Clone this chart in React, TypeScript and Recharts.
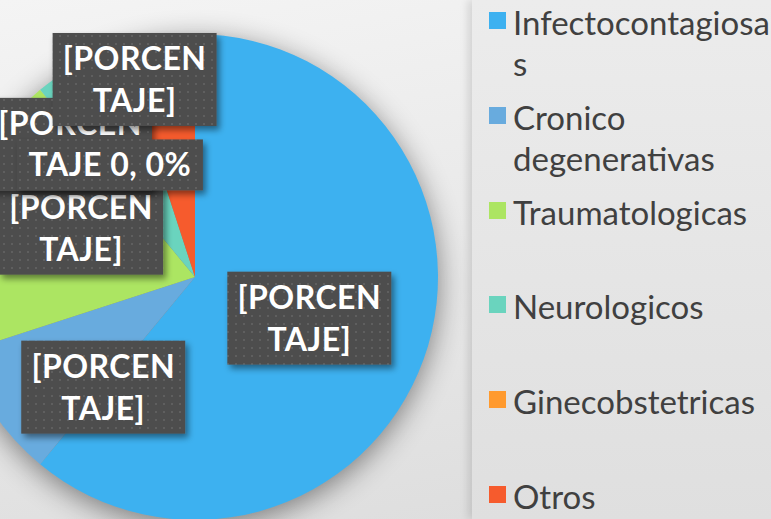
import React from "react";
import { PieChart, Pie, Cell, Legend } from "recharts";

// slice data, clockwise from 12 o'clock
const categories = [
  "Infectocontagiosas",
  "Cronico degenerativas",
  "Traumatologicas",
  "Neurologicos",
  "Ginecobstetricas",
  "Otros",
];
const shares = [61, 9, 19, 6, 0, 5];
const sliceColors = ["#3DB1F0", "#68ABDE", "#ACE562", "#6AD4BE", "#FF9A2E", "#F65B2D"];
const labelLines = [
  ["[PORCEN", "TAJE]"],
  ["[PORCEN", "TAJE]"],
  ["[PORCEN", "TAJE]"],
  ["[PORCEN", "TAJE]"],
  ["TAJE 0, 0%"],
  ["[PORCEN", "TAJE]"],
];

const data = categories.map((name, i) => ({ name, value: shares[i] }));

// where each callout sits: distance as fraction of radius, angle nudge (deg, clockwise)
const labelSpots = [
  { dist: 0.5, turn: 0, w: 164 },
  { dist: 0.59, turn: -16, w: 164 },
  { dist: 0.51, turn: 7, w: 164 },
  { dist: 0.75, turn: -14.5, w: 164 },
  { dist: 0.579, turn: -19.2, w: 186 },
  { dist: 0.85, turn: -8, w: 164 },
];

const RAD = Math.PI / 180;
const FONT = "Lato, 'Open Sans', sans-serif";

const renderLabel = (props: any) => {
  const { cx, cy, midAngle, outerRadius, index } = props;
  const spot = labelSpots[index];
  const a = (90 - midAngle + spot.turn) * RAD;
  const d = outerRadius * spot.dist;
  const x = cx + d * Math.sin(a);
  const y = cy - d * Math.cos(a);
  const lines = labelLines[index];
  const h = 9 + 42 * lines.length;
  const top = y - h / 2;
  return (
    <g key={`lbl-${index}`}>
      {index === 0 && (
        <defs>
          <pattern id="dots" width="8" height="8" patternUnits="userSpaceOnUse">
            <rect width="8" height="8" fill="#4d4d4d" />
            <rect x="3" y="3" width="2" height="2" fill="#5f5f5f" />
          </pattern>
          <filter id="boxShadow" x="-20%" y="-20%" width="140%" height="160%">
            <feDropShadow dx="3" dy="4" stdDeviation="3" floodColor="#000" floodOpacity="0.45" />
          </filter>
        </defs>
      )}
      <rect
        x={x - spot.w / 2}
        y={top}
        width={spot.w}
        height={h}
        fill="url(#dots)"
        filter="url(#boxShadow)"
      />
      {lines.map((t, i) => (
        <text
          key={i}
          x={x}
          y={top + 37 + 42 * i}
          textAnchor="middle"
          fill="#ffffff"
          fontFamily={FONT}
          fontWeight={700}
          fontSize={32}
          letterSpacing={0.5}
        >
          {t}
        </text>
      ))}
    </g>
  );
};

const renderLegend = () => (
  <div style={{ fontFamily: FONT, fontSize: 33, color: "#404040", lineHeight: "41px" }}>
    {categories.map((name, i) => (
      <div key={name} style={{ position: "relative", height: 94.8, paddingLeft: 24 }}>
        <span
          style={{
            position: "absolute",
            left: 0,
            top: 10,
            width: 17,
            height: 17,
            background: sliceColors[i],
          }}
        />
        <div style={{ width: 258, overflowWrap: "anywhere" }}>{name}</div>
      </div>
    ))}
  </div>
);

export default function App() {
  return (
    <div
      style={{
        position: "absolute",
        left: 0,
        top: 0,
        width: 771,
        height: 519,
        overflow: "hidden",
        background: "linear-gradient(170deg, #f4f4f4 0%, #e6e6e6 60%, #dcdcdc 100%)",
      }}
    >
      <style>{`.recharts-pie { filter: drop-shadow(0px 6px 14px rgba(0,0,0,0.45)); }`}</style>
      <div
        style={{
          position: "absolute",
          left: 472,
          top: 0,
          width: 299,
          height: 519,
          background: "linear-gradient(to bottom, #ececec, #dfdfdf)",
          boxShadow: "-4px 0 8px rgba(0,0,0,0.12)",
        }}
      />
      <PieChart width={771} height={519} margin={{ top: 0, right: 0, bottom: 0, left: 0 }}>
        <Pie
          data={data}
          dataKey="value"
          nameKey="name"
          cx={195}
          cy={277}
          outerRadius={243}
          startAngle={90}
          endAngle={-270}
          stroke="none"
          labelLine={false}
          label={renderLabel}
          isAnimationActive={false}
        >
          {data.map((d, i) => (
            <Cell key={d.name} fill={sliceColors[i]} />
          ))}
        </Pie>
        <Legend
          layout="vertical"
          verticalAlign="top"
          align="right"
          content={renderLegend}
          wrapperStyle={{ left: 489, top: 2, width: 282 }}
        />
      </PieChart>
    </div>
  );
}
